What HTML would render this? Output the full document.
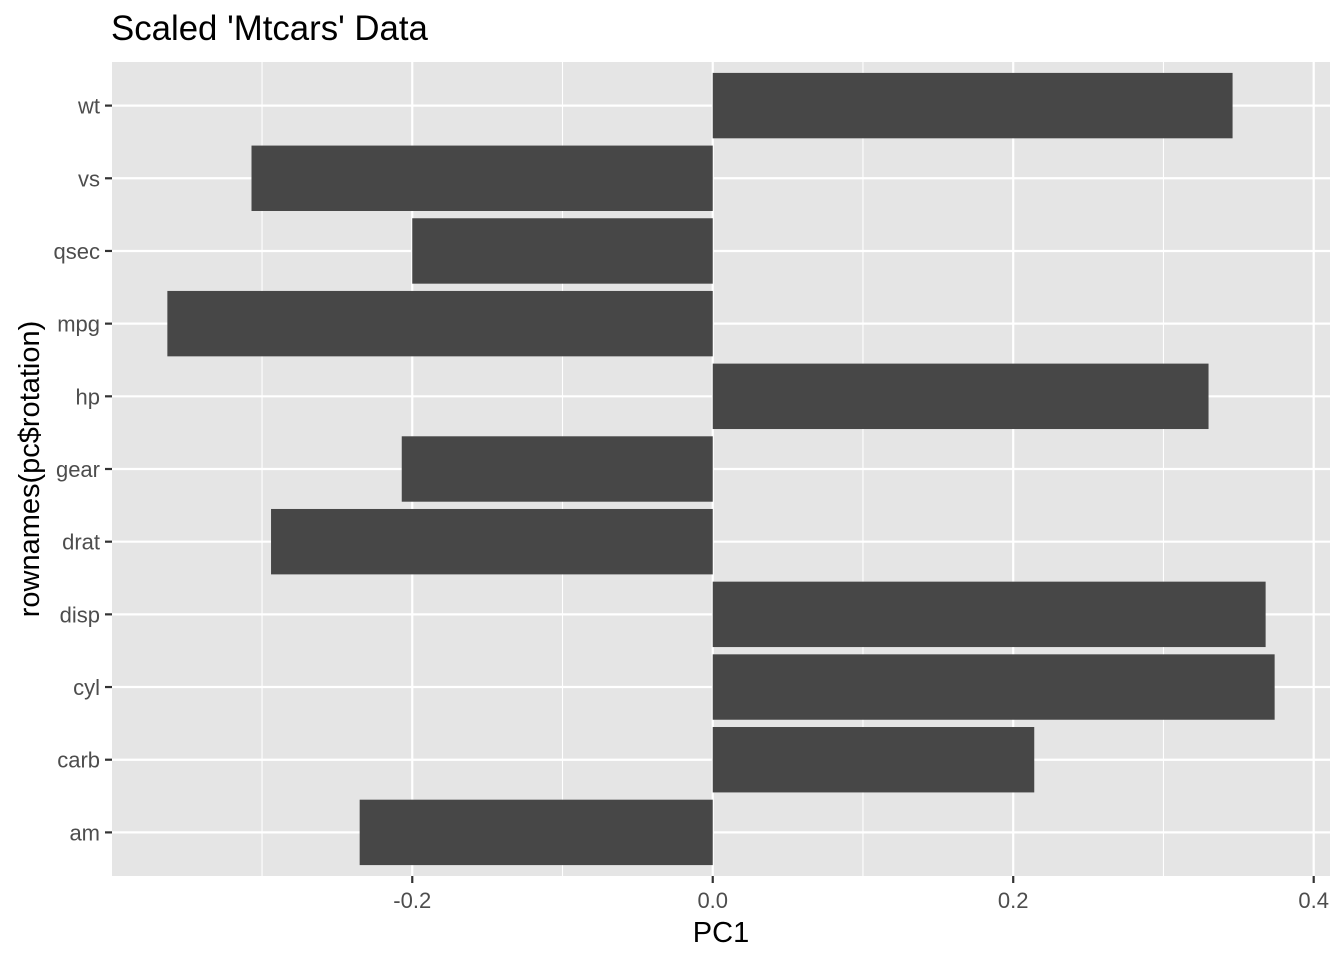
<!DOCTYPE html>
<html><head><meta charset="utf-8"><style>
body{margin:0;background:#fff;}
svg text{font-family:"Liberation Sans",Arial,sans-serif;}
</style></head><body>
<svg id="chart" width="1344" height="960">
<text x="111" y="40" font-size="34.8" fill="#000">Scaled 'Mtcars' Data</text>
<rect x="112" y="62" width="1218" height="814" fill="#e5e5e5"/>
<g id="grid"></g>
<g id="bars"></g>
<g id="axes"></g>
<text x="721" y="942" font-size="29" text-anchor="middle" fill="#000">PC1</text>
<text transform="translate(39,469) rotate(-90)" font-size="29" text-anchor="middle" fill="#000">rownames(pc$rotation)</text>
</svg>
<script>
const categories = ["am","carb","cyl","disp","drat","gear","hp","mpg","qsec","vs","wt"];
const values = [-0.235,0.214,0.374,0.368,-0.294,-0.207,0.330,-0.363,-0.200,-0.307,0.346];
const xTicks = [-0.2,0.0,0.2,0.4];
const xTickLabels = ["-0.2","0.0","0.2","0.4"];
const xMinor = [-0.3,-0.1,0.1,0.3];

const NS="http://www.w3.org/2000/svg";
const pL=112,pR=1330,pT=62,pB=876;
const vmin=Math.min(0,...values), vmax=Math.max(0,...values);
const pad=(vmax-vmin)*0.05;
const d0=vmin-pad, d1=vmax+pad;
function xs(v){return pL+(v-d0)/(d1-d0)*(pR-pL);}
const n=categories.length;
const step=(pB-pT)/(n-1+1.2);
function ys(i){return pB-step*(0.6+i);}
function mk(t,a,p){const e=document.createElementNS(NS,t);for(const k in a)e.setAttribute(k,a[k]);p.appendChild(e);return e;}
const grid=document.getElementById('grid'),bars=document.getElementById('bars'),axes=document.getElementById('axes');
xMinor.forEach(v=>{const l=mk('line',{x1:xs(v),x2:xs(v),y1:pT,y2:pB,stroke:'#fff','stroke-width':1.1},grid);

});
xTicks.forEach((v,i)=>{const l=mk('line',{x1:xs(v),x2:xs(v),y1:pT,y2:pB,stroke:'#fff','stroke-width':2.2},grid);


const t=mk('line',{x1:xs(v),x2:xs(v),y1:pB,y2:pB+7,stroke:'#333','stroke-width':2.2},axes);


const tx=mk('text',{x:xs(v),y:pB+32,'font-size':22,'text-anchor':'middle',fill:'#4d4d4d'},axes);tx.textContent=xTickLabels[i];

});
categories.forEach((c,i)=>{const y=ys(i);
const g=mk('line',{x1:pL,x2:pR,y1:y,y2:y,stroke:'#fff','stroke-width':2.2},grid);


const h=step*0.9,v=values[i];
const r=mk('rect',{x:Math.min(xs(0),xs(v)),y:y-h/2,width:Math.abs(xs(v)-xs(0)),height:h,fill:'#474747'},bars);


const t=mk('line',{x1:pL-7,x2:pL,y1:y,y2:y,stroke:'#333','stroke-width':2.2},axes);


const tx=mk('text',{x:pL-12,y:y+8,'font-size':22,'text-anchor':'end',fill:'#4d4d4d'},axes);tx.textContent=c;

});
</script>
</body></html>
